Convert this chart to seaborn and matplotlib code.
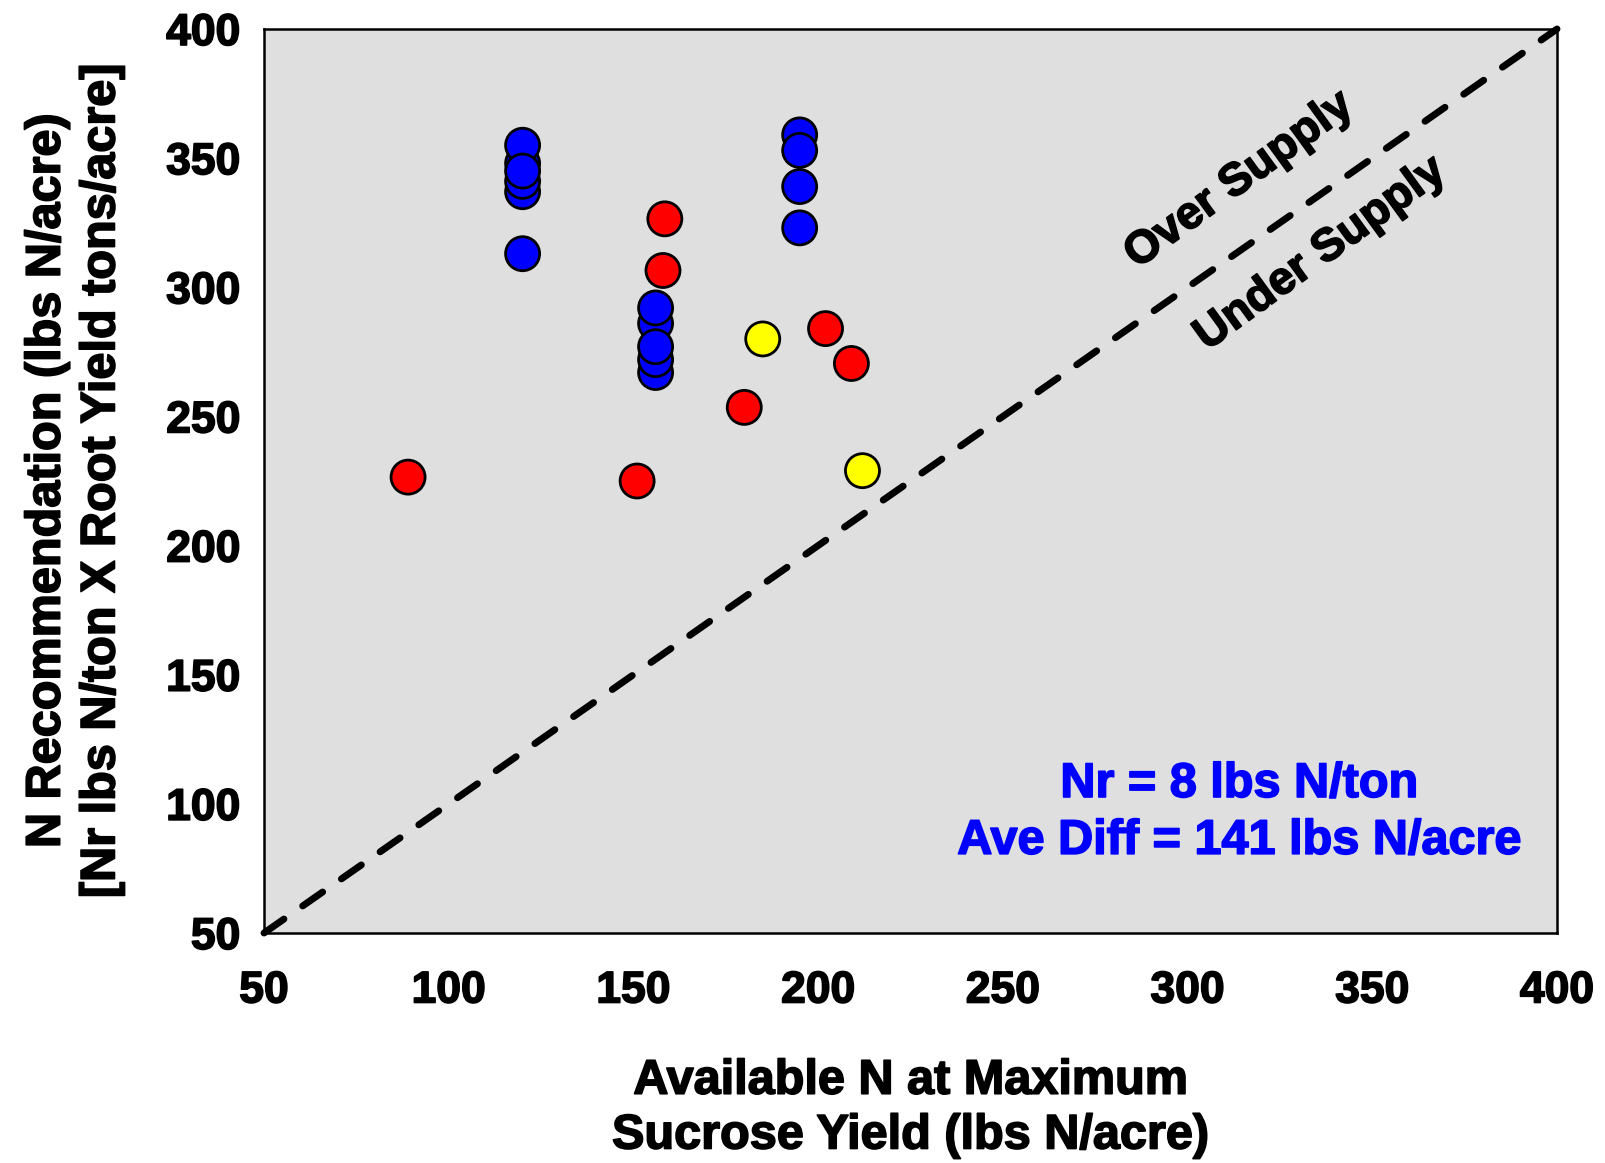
import matplotlib
matplotlib.use("Agg")
import matplotlib.pyplot as plt
import matplotlib.patheffects as pe
import seaborn as sns
import pandas as pd

# Available N at maximum sucrose yield vs. N recommendation (lbs N/acre)
blue_x = [120, 120, 120, 120, 120, 120,
          156, 156, 156, 156, 156,
          195, 195, 195, 195]
blue_y = [313, 337, 341, 348, 355, 345,
          286, 292, 267, 272, 277,
          359, 353, 339, 323]

red_x = [89, 151, 158.5, 158, 180, 202, 209]
red_y = [226.5, 225, 326.5, 306.5, 253.5, 284, 270.5]

yellow_x = [185, 212]
yellow_y = [280, 229]

x_ticks = [50, 100, 150, 200, 250, 300, 350, 400]
y_ticks = [50, 100, 150, 200, 250, 300, 350, 400]

df = pd.DataFrame({
    "avail": blue_x + red_x + yellow_x,
    "rec": blue_y + red_y + yellow_y,
    "grp": ["blue"] * len(blue_x) + ["red"] * len(red_x) + ["yellow"] * len(yellow_x),
})

sns.set_theme(style="white")
plt.rcParams["font.family"] = ["Liberation Sans", "DejaVu Sans"]
plt.rcParams["font.weight"] = "bold"
plt.rcParams["text.color"] = "black"
plt.rcParams["axes.labelcolor"] = "black"
plt.rcParams["xtick.color"] = "black"
plt.rcParams["ytick.color"] = "black"


def heavy(color="black", w=1.2):
    # thicken the bold glyphs a little
    return [pe.withStroke(linewidth=w, foreground=color)]


fig = plt.figure(figsize=(16.06, 11.63), dpi=100)
ax = fig.add_axes([264 / 1606, 1 - 933 / 1163, (1557 - 264) / 1606, (933 - 29) / 1163])
ax.set_facecolor("#dfdfdf")

# 1:1 line separating over- and under-supply
ax.plot([50, 400], [50, 400], color="black", lw=5, ls=(0, (3.5, 3.3)),
        dash_capstyle="round", solid_capstyle="round", zorder=1, clip_on=False)

sns.scatterplot(data=df, x="avail", y="rec", hue="grp",
                palette={"blue": "#0000ff", "red": "#ff0000", "yellow": "#ffff00"},
                s=600, edgecolor="black", linewidth=2.0, legend=False, ax=ax, zorder=3)

ax.set_xlim(50, 400)
ax.set_ylim(50, 400)
ax.set_xticks(x_ticks)
ax.set_yticks(y_ticks)
ax.tick_params(axis="both", direction="in", length=19, width=1.2, color="black",
               labelsize=32, pad=17)
ax.tick_params(axis="x", pad=27)
for lab in ax.get_xticklabels() + ax.get_yticklabels():
    lab.set_fontweight("bold")
    lab.set_path_effects(heavy())
for sp in ax.spines.values():
    sp.set_visible(True)
    sp.set_color("black")
    sp.set_linewidth(1.8)

ax.set_xlabel("Available N at Maximum\nSucrose Yield (lbs N/acre)", fontsize=35,
              fontweight="bold", labelpad=34, linespacing=1.28)
ax.set_ylabel("N Recommendation (lbs N/acre)\n[Nr lbs N/ton X Root Yield tons/acre]",
              fontsize=35, fontweight="bold", labelpad=30, linespacing=1.28)
ax.xaxis.label.set_path_effects(heavy())
ax.yaxis.label.set_path_effects(heavy())

ax.text(314, 341.5, "Over Supply", rotation=36, rotation_mode="anchor",
        ha="center", va="center", fontsize=33, fontweight="bold", color="black",
        path_effects=heavy())
ax.text(336, 313, "Under Supply", rotation=36, rotation_mode="anchor",
        ha="center", va="center", fontsize=33, fontweight="bold", color="black",
        path_effects=heavy())

ax.text(314, 107.5, "Nr = 8 lbs N/ton", ha="center", va="center",
        fontsize=35, fontweight="bold", color="#0000ff", path_effects=heavy("#0000ff"))
ax.text(314, 85.5, "Ave Diff = 141 lbs N/acre", ha="center", va="center",
        fontsize=35, fontweight="bold", color="#0000ff", path_effects=heavy("#0000ff"))

fig.savefig("out.png", dpi=100)
